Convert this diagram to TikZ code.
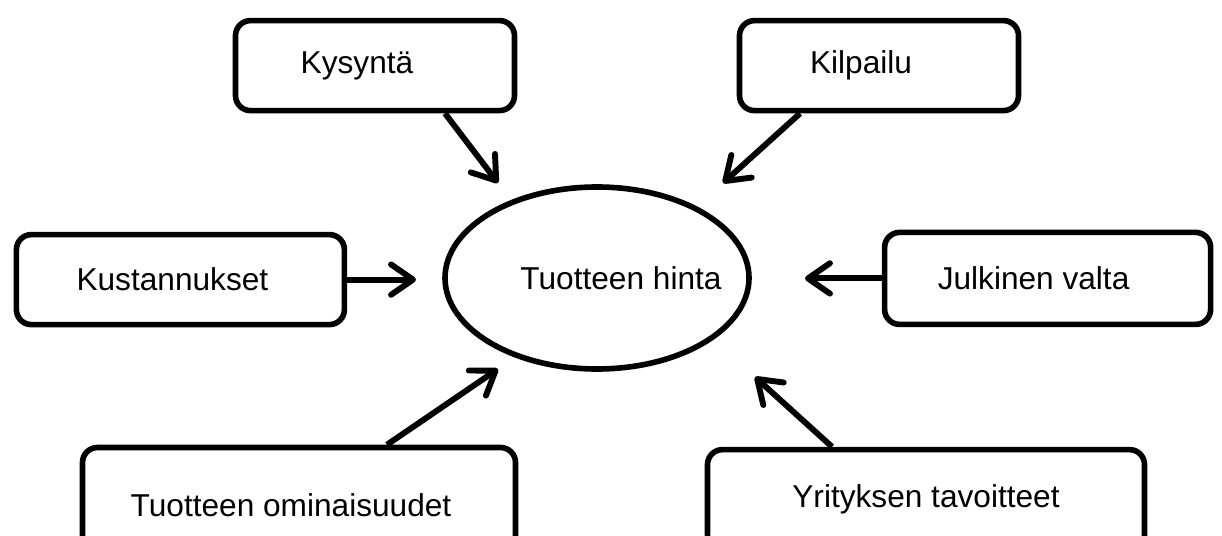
\documentclass[tikz,border=0pt]{standalone}
\usepackage{fontspec}
\setmainfont{Liberation Sans}
\usetikzlibrary{arrows.meta,positioning,shapes.geometric,calc}

\tikzset{
  factor/.style={draw,line width=4pt,rounded corners=0.375cm,minimum height=2.25cm,inner sep=0pt},
  push/.style={line width=4.2pt,-{Straight Barb[length=5.5mm,width=7.6mm,line cap=round,line join=round]}}
}

\begin{document}
\begin{tikzpicture}
  \fontsize{22.5}{27}\selectfont
  \useasboundingbox (0,0) rectangle (30.55,-13.4);
  \clip (0,0) rectangle (30.55,-13.4);
  % centre
  \node[draw,ellipse,line width=4pt,minimum width=7.6cm,minimum height=4.55cm,inner xsep=-0.7cm,inner ysep=0pt] (hinta) at (14.925,-6.95) {\hspace*{1.2cm}Tuotteen hinta};
  % top row
  \node[factor,minimum width=6.975cm] (kysynta) at (9.375,-1.64) {Kysyntä\hspace*{0.9cm}};
  \node[factor,minimum width=6.975cm] (kilpailu) at (21.975,-1.64) {Kilpailu\hspace*{0.9cm}};
  % middle row
  \node[factor,minimum width=8.2cm] (kustannukset) at (4.51,-6.99) {Kustannukset\hspace*{0.4cm}};
  \node[factor,minimum width=8.15cm,minimum height=2.3cm] (valta) at (26.19,-6.96) {Julkinen valta\hspace*{0.7cm}};
  % bottom row
  \node[factor,minimum width=10.825cm,minimum height=2.875cm] (ominaisuudet) at (7.475,-12.625) {Tuotteen ominaisuudet\hspace*{0.4cm}};
  \node[factor,minimum width=10.925cm,minimum height=2.5cm] (tavoitteet) at (23.15,-12.49) {Yrityksen tavoitteet};
  % arrow ends
  \coordinate (kysyntaend) at (12.45,-4.575);
  \coordinate (kilpailuend) at (18.075,-4.575);
  \coordinate (kustannuksetend) at (10.4,-6.99);
  \coordinate (valtaend) at (20.125,-6.96);
  \coordinate (ominaisuudetend) at (12.45,-9.225);
  \coordinate (tavoitteetend) at (18.875,-9.425);
  % arrows
  \draw[push] ([xshift=1.75cm]kysynta.south) -- (kysyntaend);
  \draw[push] ([xshift=-1.975cm]kilpailu.south) -- (kilpailuend);
  \draw[push] (kustannukset.east) -- (kustannuksetend);
  \draw[push] (valta.west) -- (valtaend);
  \draw[push] ([xshift=2.2cm]ominaisuudet.north) -- (ominaisuudetend);
  \draw[push] ([xshift=-2.35cm]tavoitteet.north) -- (tavoitteetend);
\end{tikzpicture}
\end{document}
